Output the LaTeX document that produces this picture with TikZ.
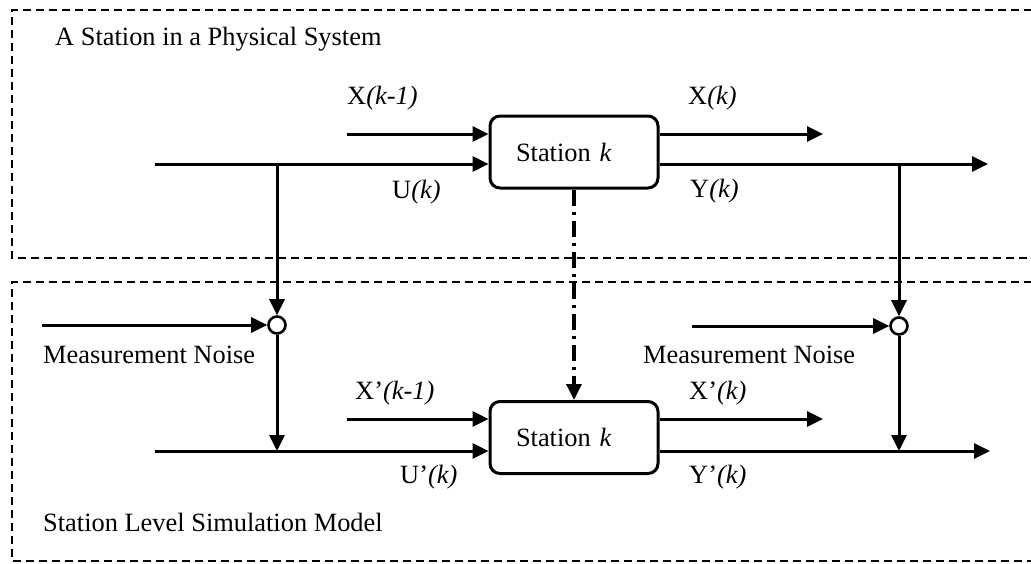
\documentclass[tikz,border=0pt]{standalone}
\usepackage{fontspec}
\setmainfont{Liberation Serif}
\usetikzlibrary{arrows.meta}
\begin{document}
\begin{tikzpicture}[x=1pt,y=-1pt,
  lbl/.style={anchor=base west, inner sep=0pt, font=\fontsize{26.4}{30}\selectfont},
  flow/.style={line width=3pt, -{Triangle[length=16pt,width=15pt]}},
  region/.style={line width=2.2pt, dash pattern=on 8pt off 5pt},
  stationbox/.style={draw, line width=3pt, rounded corners=10pt, minimum width=168pt, minimum height=72pt, inner sep=0pt, text width=116pt, align=left, font=\fontsize{26.4}{30}\selectfont},
  junc/.style={circle, draw, line width=2.6pt, fill=white, minimum size=17pt, inner sep=0pt},
  linkline/.style={line width=3.4pt, dash pattern=on 16pt off 6pt on 3pt off 6pt, -{Triangle[length=16pt,width=15pt]}}]
\useasboundingbox (0,0) rectangle (1031,563);
% regions
\draw[region] (1045,10) -- (12,10) -- (12,258) -- (1045,258);
\draw[region] (1045,282) -- (12,282) -- (12,561) -- (1045,561);
\node[lbl] (t1) at (55,45) {A Station in a Physical System};
\node[lbl] (t2) at (43,531) {Station Level Simulation Model};
% stations
\node[stationbox] (s1) at (574,152) {Station \textit{k}};
\node[stationbox] (s2) at (574,437.5) {Station \textit{k}};
% top flows
\coordinate (xin) at (347,134);
\coordinate (uin) at (155,164);
\coordinate (xout) at (823,134);
\coordinate (yout) at (988,164);
\draw[flow] (xin) -- (s1.west |- xin);
\draw[flow] (uin) -- (s1.west |- uin);
\draw[flow] (s1.east |- xout) -- (xout);
\draw[flow] (s1.east |- yout) -- (yout);
\node[lbl] (lx1) at (347,104) {X\textit{(k-1)}};
\node[lbl] (lu1) at (392,198) {U\textit{(k)}};
\node[lbl] (lx2) at (688,104) {X\textit{(k)}};
\node[lbl] (ly2) at (690,197) {Y\textit{(k)}};
% junctions
\coordinate (ju) at (277,164);
\coordinate (jy) at (899,164);
\node[junc] (c1) at (277,325) {};
\node[junc] (c2) at (899,326) {};
\draw[flow] (ju) -- (c1);
\draw[flow] (jy) -- (c2);
\coordinate (n1) at (42,325);
\coordinate (n2) at (692,326);
\draw[flow] (n1) -- (c1);
\draw[flow] (n2) -- (c2);
\node[lbl] (mn1) at (43,363) {Measurement Noise};
\node[lbl] (mn2) at (643,363) {Measurement Noise};
% bottom flows
\coordinate (ju2) at (277,451);
\coordinate (jy2) at (899,451);
\coordinate (uin2) at (155,451);
\coordinate (xin2) at (347,419);
\coordinate (xout2) at (823,419);
\coordinate (yout2) at (990,451);
\draw[flow] (c1) -- (ju2);
\draw[flow] (c2) -- (jy2);
\draw[flow] (xin2) -- (s2.west |- xin2);
\draw[flow] (uin2) -- (s2.west |- uin2);
\draw[flow] (s2.east |- xout2) -- (xout2);
\draw[flow] (s2.east |- yout2) -- (yout2);
\node[lbl] (lx3) at (355,399) {X’\textit{(k-1)}};
\node[lbl] (lu3) at (400,483) {U’\textit{(k)}};
\node[lbl] (lx4) at (689,399) {X’\textit{(k)}};
\node[lbl] (ly4) at (689,483) {Y’\textit{(k)}};
% link
\draw[linkline] (s1.south) -- (s2.north);
\end{tikzpicture}
\end{document}
